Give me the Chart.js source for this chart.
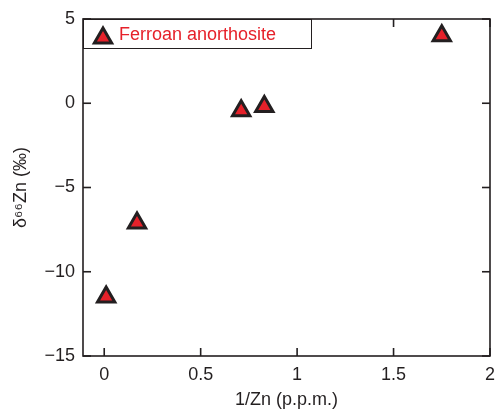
<!DOCTYPE html>
<html>
<head>
<meta charset="utf-8">
<script src="https://cdn.jsdelivr.net/npm/chart.js@4/dist/chart.umd.min.js"></script>
<style>
  html, body { margin: 0; padding: 0; background: #ffffff; overflow: hidden; }
  canvas { display: block; }
</style>
</head>
<body>
<!-- canvas is a bit wider than the window: the x scale keeps a 13px right margin for the last label -->
<canvas id="scatterChart" width="503" height="409"></canvas>
<script>
const seriesName = 'Ferroan anorthosite';
const invZn = [0.01, 0.17, 0.71, 0.83, 1.75];
const delta66Zn = [-11.5, -7.1, -0.45, -0.2, 4.0];
const xTicks = [0, 0.5, 1, 1.5, 2];
const yTicks = [-15, -10, -5, 0, 5];

const inkColor = '#231f20';
const redFill = '#e6212a';
const fontFamily = '"Liberation Sans", Arial, sans-serif';

const points = invZn.map((x, i) => ({ x: x, y: delta66Zn[i] }));

function minusSign(v) {
    return String(v).replace('-', '\u2212');
}

// box around plot area with inward tick marks, legend box inside top-left
const framePlugin = {
    id: 'frame',
    afterDraw(chart) {
        const ctx = chart.ctx;
        const area = chart.chartArea;
        const xs = chart.scales.x;
        const ys = chart.scales.y;
        const tick = 8;
        const lw = 1.6;
        ctx.save();
        ctx.fillStyle = inkColor;

        for (let i = 0; i < xTicks.length; i++) {
            const px = xs.getPixelForValue(xTicks[i]);
            ctx.fillRect(px - lw / 2, area.bottom - tick, lw, tick);
            ctx.fillRect(px - lw / 2, area.top, lw, tick);
        }
        for (let i = 0; i < yTicks.length; i++) {
            const py = ys.getPixelForValue(yTicks[i]);
            ctx.fillRect(area.left, py - lw / 2, tick, lw);
            ctx.fillRect(area.right - tick, py - lw / 2, tick, lw);
        }

        // legend
        const boxW = 228;
        const boxH = 29;
        ctx.fillStyle = '#ffffff';
        ctx.fillRect(area.left, area.top, boxW, boxH);
        ctx.strokeStyle = inkColor;
        ctx.lineWidth = 1;
        ctx.strokeRect(area.left + 0.5, area.top + 0.5, boxW, boxH);

        const ds = chart.data.datasets[0];
        ctx.fillStyle = ds.backgroundColor;
        ctx.strokeStyle = ds.borderColor;
        ctx.lineWidth = ds.borderWidth;
        ctx.lineJoin = 'miter';
        Chart.helpers.drawPoint(ctx, { pointStyle: 'triangle', radius: ds.pointRadius, rotation: 0, borderWidth: ds.borderWidth }, area.left + 20, area.top + 19);

        ctx.fillStyle = redFill;
        ctx.font = '18px ' + fontFamily;
        ctx.textBaseline = 'middle';
        ctx.textAlign = 'left';
        ctx.fillText(ds.label, area.left + 36, area.top + 16);

        ctx.strokeStyle = inkColor;
        ctx.lineWidth = lw;
        ctx.strokeRect(area.left, area.top, area.right - area.left, area.bottom - area.top);
        ctx.restore();
    }
};

new Chart(document.getElementById('scatterChart'), {
    type: 'scatter',
    data: {
        datasets: [{
            label: seriesName,
            data: points,
            pointStyle: 'triangle',
            pointRadius: 10,
            pointHoverRadius: 10,
            borderWidth: 3,
            borderColor: inkColor,
            backgroundColor: redFill,
            clip: false
        }]
    },
    options: {
        responsive: false,
        animation: false,
        events: [],
        layout: {
            autoPadding: false,
            padding: { top: 19, right: 6, bottom: 0, left: 0 }
        },
        plugins: {
            legend: { display: false },
            tooltip: { enabled: false }
        },
        scales: {
            x: {
                type: 'linear',
                min: -0.11,
                max: 2,
                afterBuildTicks: function (scale) {
                    scale.ticks = xTicks.map(v => ({ value: v }));
                },
                afterFit: function (scale) {
                    scale.height = 53;
                },
                grid: { display: false, drawTicks: false },
                border: { display: false },
                ticks: {
                    color: inkColor,
                    padding: 8,
                    maxRotation: 0,
                    font: { family: fontFamily, size: 18 },
                    callback: v => minusSign(v)
                },
                title: {
                    display: true,
                    text: '1/Zn (p.p.m.)',
                    color: inkColor,
                    padding: { top: 0, bottom: -2 },
                    font: { family: fontFamily, size: 18 }
                }
            },
            y: {
                type: 'linear',
                min: -15,
                max: 5,
                afterBuildTicks: function (scale) {
                    scale.ticks = yTicks.map(v => ({ value: v }));
                },
                afterFit: function (scale) {
                    scale.width = 83;
                },
                grid: { display: false, drawTicks: false },
                border: { display: false },
                ticks: {
                    color: inkColor,
                    padding: 8,
                    font: { family: fontFamily, size: 18 },
                    callback: v => minusSign(v)
                },
                title: {
                    display: true,
                    text: '\u03b4\u2076\u2076Zn (\u2030)',
                    color: inkColor,
                    padding: { top: 10, bottom: 0 },
                    font: { family: fontFamily, size: 18 }
                }
            }
        }
    },
    plugins: [framePlugin]
});
</script>
</body>
</html>
